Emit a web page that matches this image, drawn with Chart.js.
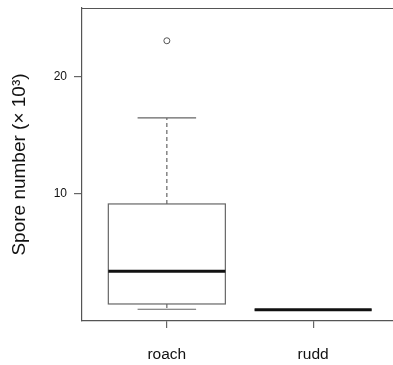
<!DOCTYPE html>
<html><head><meta charset="utf-8">
<script src="https://cdn.jsdelivr.net/npm/chart.js@4.4.0/dist/chart.umd.min.js"></script>
<style>html,body{margin:0;padding:0;background:#fff;}#wrap{width:393px;height:365px;}</style>
</head><body><div id="wrap"><canvas id="c" width="393" height="365"></canvas></div>
<script>
const categories = ['roach', 'rudd'];
const whiskerLow = [0.15, 0.1];
const q1 = [0.6, 0.1];
const median = [3.4, 0.1];
const q3 = [9.15, 0.1];
const whiskerHigh = [16.5, 0.1];
const outliers = [[23.1], []];
const yTicks = [10, 20];

const outlierPoints = [];
outliers.forEach((arr, i) => arr.forEach(v => outlierPoints.push({x: i + 1, y: v})));

function noPad(s) { s.paddingTop = 0; s.paddingBottom = 0; s.paddingLeft = 0; s.paddingRight = 0; }

const boxPlugin = {
  id: 'boxes',
  beforeDatasetsDraw(chart) {
    const {ctx, scales: {x, y}, chartArea} = chart;
    ctx.save();
    ctx.strokeStyle = '#555';
    ctx.lineWidth = 1.2;
    ctx.beginPath();
    ctx.moveTo(chartArea.left, chartArea.top + 0.5);
    ctx.lineTo(chartArea.right, chartArea.top + 0.5);
    ctx.stroke();
    categories.forEach((c, i) => {
      const pos = i + 1;
      const xl = x.getPixelForValue(pos - 0.4), xr = x.getPixelForValue(pos + 0.4);
      const cl = x.getPixelForValue(pos - 0.2), cr = x.getPixelForValue(pos + 0.2);
      const xc = x.getPixelForValue(pos);
      const yq1 = y.getPixelForValue(q1[i]), yq3 = y.getPixelForValue(q3[i]);
      const ylo = y.getPixelForValue(whiskerLow[i]), yhi = y.getPixelForValue(whiskerHigh[i]);
      const ym = y.getPixelForValue(median[i]);
      ctx.strokeStyle = '#666';
      ctx.lineWidth = 1.2;
      ctx.setLineDash([4, 3]);
      ctx.beginPath();
      ctx.moveTo(xc, yq3); ctx.lineTo(xc, yhi);
      ctx.moveTo(xc, yq1); ctx.lineTo(xc, ylo);
      ctx.stroke();
      ctx.setLineDash([]);
      ctx.beginPath();
      ctx.moveTo(cl, yhi); ctx.lineTo(cr, yhi);
      ctx.moveTo(cl, ylo); ctx.lineTo(cr, ylo);
      ctx.stroke();
      ctx.strokeRect(xl, yq3, xr - xl, yq1 - yq3);
      ctx.strokeStyle = '#111';
      ctx.lineWidth = 3;
      ctx.beginPath();
      ctx.moveTo(xl, ym); ctx.lineTo(xr, ym);
      ctx.stroke();
    });
    ctx.restore();
  }
};

new Chart(document.getElementById('c'), {
  type: 'scatter',
  data: {
    datasets: [{
      data: outlierPoints,
      pointRadius: 3,
      pointBorderWidth: 1,
      pointBorderColor: '#555',
      pointBackgroundColor: 'rgba(0,0,0,0)',
      pointStyle: 'circle'
    }]
  },
  options: {
    responsive: false,
    animation: false,
    layout: {autoPadding: false, padding: {top: 8, right: 0, left: 0, bottom: 0}},
    plugins: {legend: {display: false}, tooltip: {enabled: false}},
    scales: {
      x: {
        type: 'linear',
        min: 0.42,
        max: 2.546,
        afterFit(s) { s.height = 44; noPad(s); },
        afterBuildTicks(s) { s.ticks = categories.map((c, i) => ({value: i + 1})); },
        ticks: {
          callback: (v) => categories[v - 1],
          font: {family: 'Liberation Sans, Arial, sans-serif', size: 15.5},
          color: '#111',
          padding: 17,
          maxRotation: 0,
          autoSkip: false
        },
        grid: {display: true, drawOnChartArea: false, drawTicks: true, tickLength: 7, color: '#666', lineWidth: 1.2},
        border: {display: true, color: '#555', width: 1.2}
      },
      y: {
        type: 'linear',
        min: -0.855,
        max: 25.9,
        afterFit(s) { s.width = 82; noPad(s); },
        afterBuildTicks(s) { s.ticks = yTicks.map(v => ({value: v})); },
        ticks: {
          font: {family: 'Liberation Sans, Arial, sans-serif', size: 12},
          color: '#111',
          padding: 7
        },
        grid: {display: true, drawOnChartArea: false, drawTicks: true, tickLength: 8, color: '#666', lineWidth: 1.2},
        border: {display: true, color: '#555', width: 1.2},
        title: {
          display: true,
          text: 'Spore number (× 10³)',
          font: {family: 'Liberation Sans, Arial, sans-serif', size: 19},
          color: '#111',
          padding: {top: 8, bottom: 0}
        }
      }
    }
  },
  plugins: [boxPlugin]
});
</script>
</body></html>
